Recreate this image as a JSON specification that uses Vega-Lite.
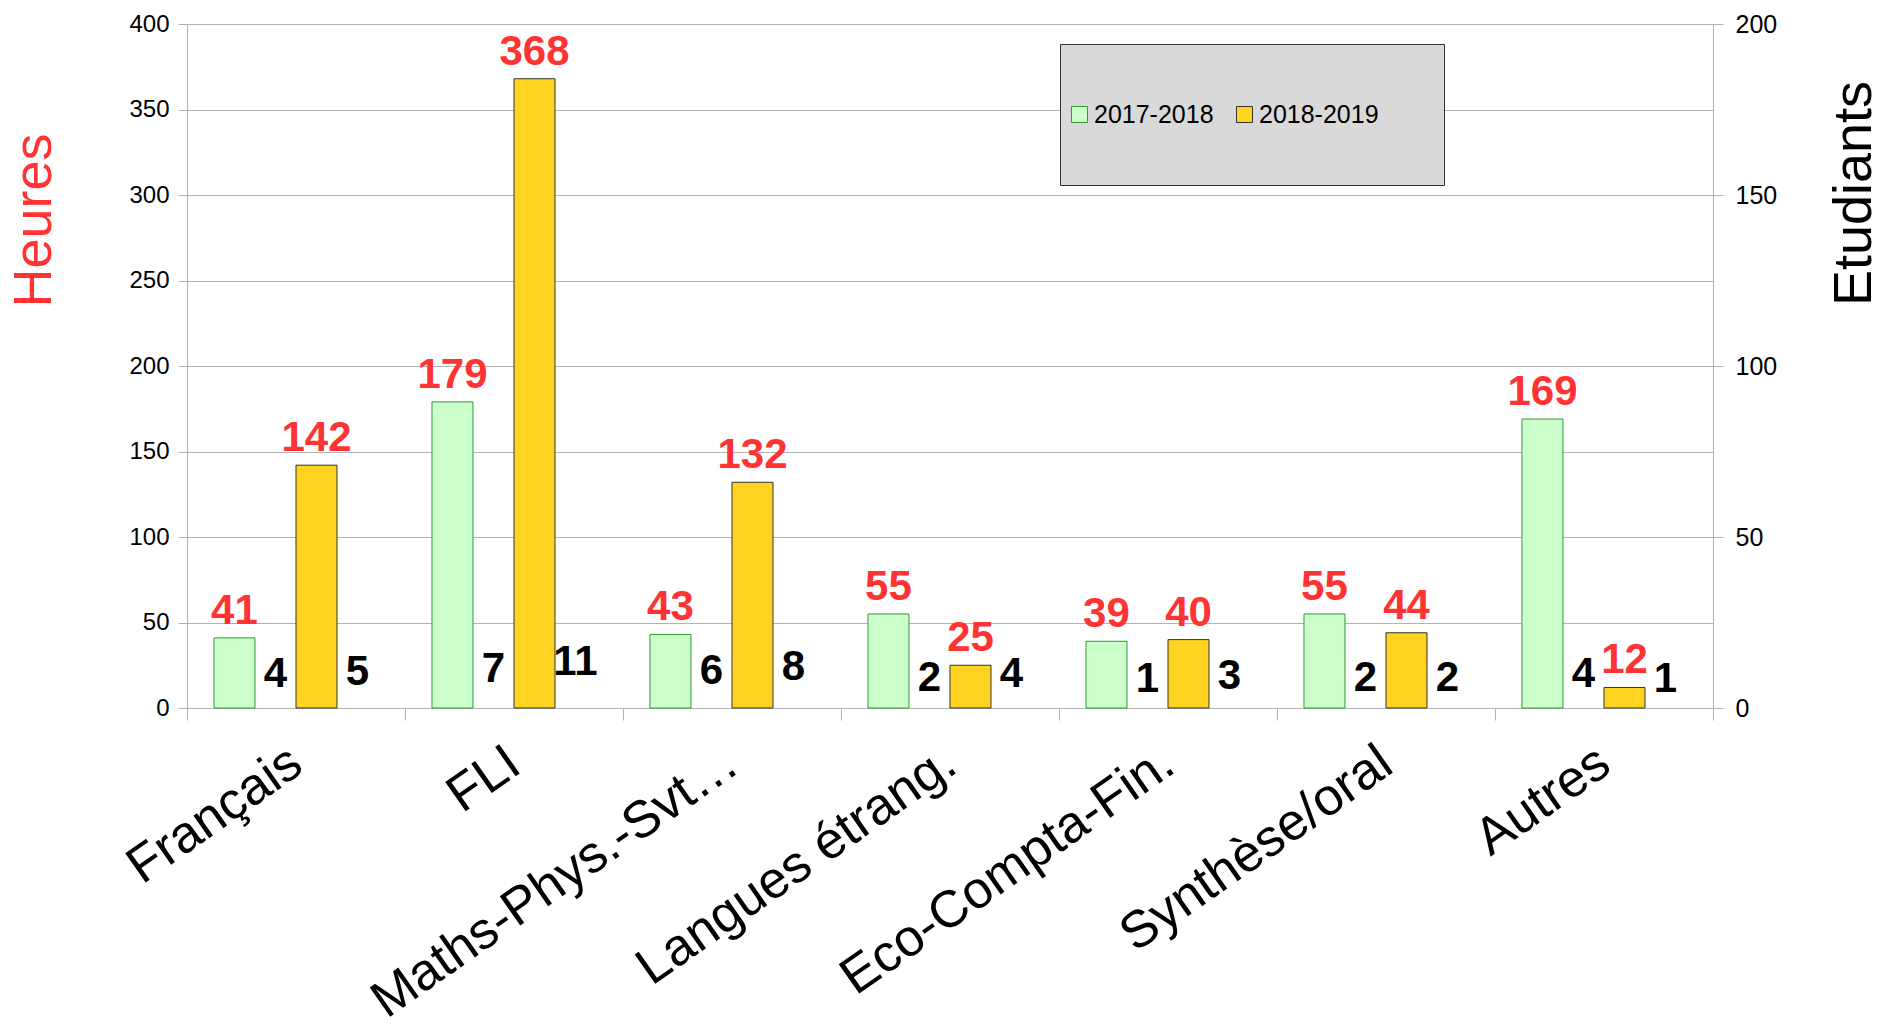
{
  "$schema": "https://vega.github.io/schema/vega-lite/v6.json",
  "width": 1526,
  "height": 684,
  "autosize": "none",
  "padding": {"left": 187, "top": 24, "right": 181, "bottom": 323},
  "background": "white",
  "config": {
    "font": "Liberation Sans",
    "view": {"stroke": null},
    "axis": {"domainColor": "#b3b3b3", "tickColor": "#b3b3b3", "gridColor": "#b3b3b3", "labelColor": "black", "titleFontWeight": "normal", "labelFont": "Liberation Sans", "titleFont": "Liberation Sans"},
    "axisLeft": {"grid": true, "tickSize": 9, "labelPadding": 9, "labelFontSize": 24, "titleColor": "#ff3333", "titleFontSize": 54, "titleX": -153, "titleY": 196, "titleAngle": 270, "titleAlign": "center", "titleBaseline": "middle"},
    "axisRight": {"grid": false, "tickSize": 10, "labelPadding": 12, "labelFontSize": 25, "titleColor": "black", "titleFontSize": 54, "titleX": 141, "titleY": 169, "titleAngle": 270, "titleAlign": "center", "titleBaseline": "middle"}
  },
  "data": {
    "values": [
      {"cat": "Français", "annee": "2017-2018", "heures": 41, "etudiants": 4},
      {"cat": "Français", "annee": "2018-2019", "heures": 142, "etudiants": 5},
      {"cat": "FLI", "annee": "2017-2018", "heures": 179, "etudiants": 7},
      {"cat": "FLI", "annee": "2018-2019", "heures": 368, "etudiants": 11},
      {"cat": "Maths-Phys.-Svt…", "annee": "2017-2018", "heures": 43, "etudiants": 6},
      {"cat": "Maths-Phys.-Svt…", "annee": "2018-2019", "heures": 132, "etudiants": 8},
      {"cat": "Langues étrang.", "annee": "2017-2018", "heures": 55, "etudiants": 2},
      {"cat": "Langues étrang.", "annee": "2018-2019", "heures": 25, "etudiants": 4},
      {"cat": "Eco-Compta-Fin.", "annee": "2017-2018", "heures": 39, "etudiants": 1},
      {"cat": "Eco-Compta-Fin.", "annee": "2018-2019", "heures": 40, "etudiants": 3},
      {"cat": "Synthèse/oral", "annee": "2017-2018", "heures": 55, "etudiants": 2},
      {"cat": "Synthèse/oral", "annee": "2018-2019", "heures": 44, "etudiants": 2},
      {"cat": "Autres", "annee": "2017-2018", "heures": 169, "etudiants": 4},
      {"cat": "Autres", "annee": "2018-2019", "heures": 12, "etudiants": 1}
    ]
  },
  "layer": [
    {
      "encoding": {
        "x": {
          "field": "cat", "type": "nominal", "sort": null,
          "scale": {"paddingInner": 0, "paddingOuter": 0},
          "axis": {"title": null, "labelAngle": -35, "labelAlign": "right", "labelBaseline": "middle", "labelFontSize": 52, "labelPadding": 37, "tickBand": "extent", "tickSize": 12, "labelLimit": 0, "grid": false}
        },
        "xOffset": {
          "field": "annee", "type": "nominal",
          "scale": {"domain": ["2017-2018", "2018-2019"], "paddingInner": 0.5, "paddingOuter": 0.579, "align": 0.284}
        }
      },
      "layer": [
        {
          "mark": {"type": "bar", "strokeWidth": 1},
          "encoding": {
            "y": {"field": "heures", "type": "quantitative", "title": "Heures", "scale": {"domain": [0, 400], "nice": false}, "axis": {"values": [0, 50, 100, 150, 200, 250, 300, 350, 400]}},
            "color": {
              "field": "annee", "type": "nominal",
              "scale": {"domain": ["2017-2018", "2018-2019"], "range": ["#ccffcc", "#ffd320"]},
              "legend": {
                "title": "\u00a0", "titleOrient": "right", "titleFontSize": 29, "titlePadding": 58,
                "orient": "none", "legendX": 873, "legendY": 20, "direction": "horizontal",
                "fillColor": "#d9d9d9", "strokeColor": "#333333", "padding": 7,
                "symbolType": "square", "symbolSize": 256, "symbolStrokeWidth": 1,
                "labelFontSize": 25, "labelColor": "black", "labelOffset": 2, "columnPadding": 18,
                "clipHeight": 127
              }
            },
            "stroke": {
              "field": "annee", "type": "nominal",
              "scale": {"domain": ["2017-2018", "2018-2019"], "range": ["#339933", "#333333"]}
            }
          }
        },
        {
          "mark": {"type": "text", "fontSize": 42, "fontWeight": "bold", "color": "#ff3333", "baseline": "alphabetic", "dy": -14},
          "encoding": {
            "y": {"field": "heures", "type": "quantitative", "title": "Heures", "scale": {"domain": [0, 400], "nice": false}},
            "text": {"field": "heures", "type": "quantitative"}
          }
        },
        {
          "mark": {"type": "text", "fontSize": 42, "fontWeight": "bold", "color": "black", "baseline": "alphabetic", "dy": -14, "dx": 41},
          "encoding": {
            "y": {"field": "etudiants", "type": "quantitative", "title": "Heures", "scale": {"domain": [0, 400], "nice": false}},
            "text": {"field": "etudiants", "type": "quantitative"}
          }
        }
      ]
    },
    {
      "mark": {"type": "point", "opacity": 0},
      "encoding": {
        "y": {"field": "etudiants", "type": "quantitative", "scale": {"domain": [0, 200], "nice": false}, "axis": {"orient": "right", "title": "Etudiants", "values": [0, 50, 100, 150, 200]}}
      }
    }
  ],
  "resolve": {"scale": {"y": "independent"}, "axis": {"y": "independent"}}
}
